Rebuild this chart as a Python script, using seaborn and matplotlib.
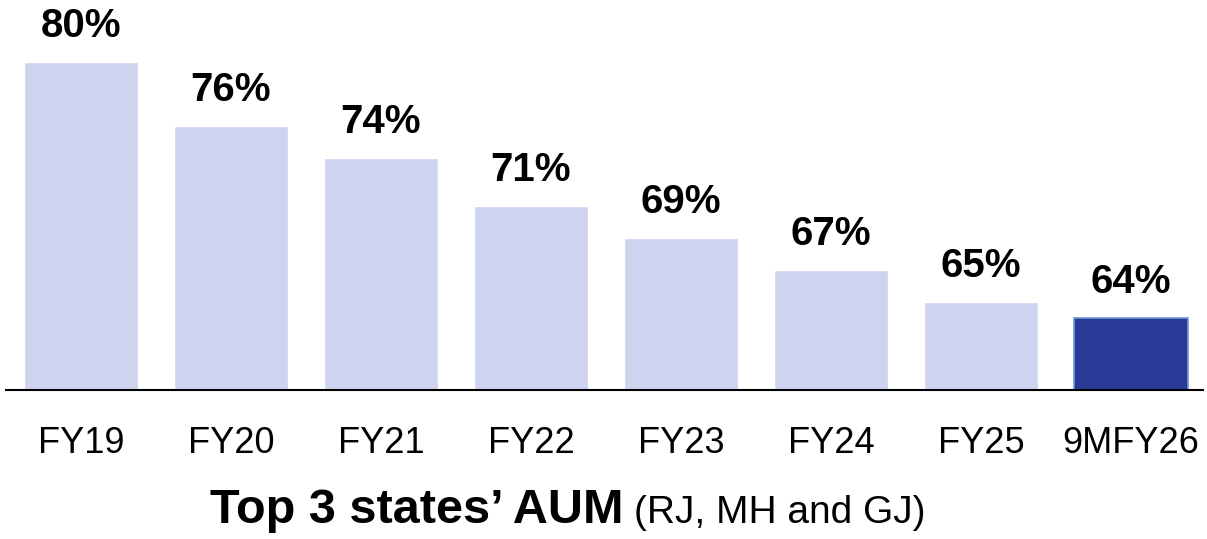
import matplotlib
matplotlib.use("Agg")
import matplotlib.pyplot as plt
import seaborn as sns
import pandas as pd

# data
years = ["FY19", "FY20", "FY21", "FY22", "FY23", "FY24", "FY25", "9MFY26"]
share = [80, 76, 74, 71, 69, 67, 65, 64]
labels = ["80%", "76%", "74%", "71%", "69%", "67%", "65%", "64%"]

light = "#ced3f0"
dark = "#2b3996"
colors = [light] * 7 + [dark]

sns.set_style("white")
plt.rcParams["font.family"] = ["Liberation Sans", "DejaVu Sans"]
plt.rcParams["text.color"] = "black"
plt.rcParams["xtick.color"] = "black"

df = pd.DataFrame({"year": years, "share": share})

fig = plt.figure(figsize=(12.07, 5.39), dpi=100)
ax = fig.add_axes([6 / 1207, 149 / 539, 1197 / 1207, 390 / 539])

sns.barplot(data=df, x="year", y="share", hue="year", palette=colors,
            width=0.76, legend=False, saturation=1, ax=ax)

# thin light edge on the highlighted bar
ax.patches[-1].set_edgecolor("#6a9ad6")
ax.patches[-1].set_linewidth(1.2)

ax.set_ylim(59.5, 83.875)
ax.set_xlim(-0.5, 7.48)

for bar, lab in zip(ax.patches, labels):
    ax.annotate(lab, (bar.get_x() + bar.get_width() / 2, bar.get_height()),
                xytext=(0, 18), textcoords="offset points",
                ha="center", va="baseline", fontsize=29, fontweight="bold",
                color="black")

sns.despine(ax=ax, left=True, top=True, right=True)
ax.spines["bottom"].set_color("black")
ax.spines["bottom"].set_linewidth(1.5)
ax.set_yticks([])
ax.set_xlabel("")
ax.set_ylabel("")
ax.tick_params(axis="x", length=0, pad=26, labelsize=26, labelcolor="black")

# caption: bold part, then the plain note right after it
t1 = fig.text(210 / 1207, 16 / 539, "Top 3 states’ AUM", fontsize=35,
              fontweight="bold", ha="left", va="baseline", color="black")
fig.canvas.draw()
bb = t1.get_window_extent()
fig.text((bb.x1 + 10) / 1207, 16 / 539, "(RJ, MH and GJ)", fontsize=28,
         ha="left", va="baseline", color="black")

fig.savefig("out.png", dpi=100)
